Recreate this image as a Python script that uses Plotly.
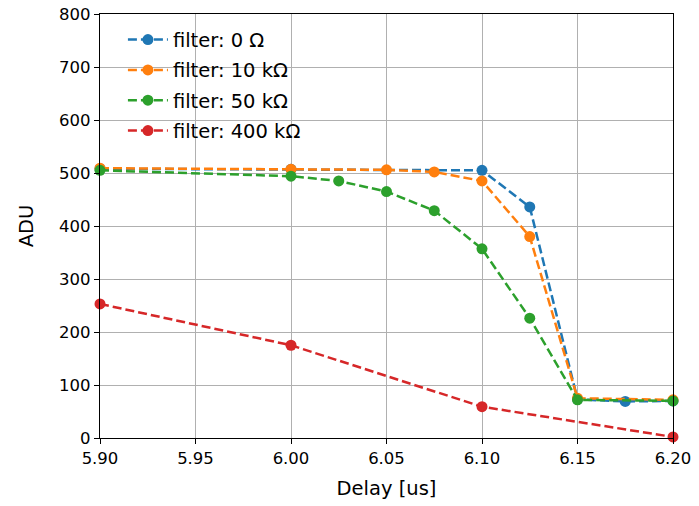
import plotly.graph_objects as go

# Signal amplitude vs. trigger delay for different filter resistors
x_0 = [5.90, 6.00, 6.10, 6.125, 6.15, 6.175, 6.20]
y_0 = [508, 507, 505, 436, 73, 69, 70]

x_10k = [5.90, 6.00, 6.05, 6.075, 6.10, 6.125, 6.15, 6.20]
y_10k = [509, 507, 506, 502, 485, 380, 75, 72]

x_50k = [5.90, 6.00, 6.025, 6.05, 6.075, 6.10, 6.125, 6.15, 6.20]
y_50k = [505, 494, 485, 465, 429, 357, 226, 72, 70]

x_400k = [5.90, 6.00, 6.10, 6.20]
y_400k = [253, 175, 59, 2]

labels = ["filter: 0 Ω", "filter: 10 kΩ", "filter: 50 kΩ", "filter: 400 kΩ"]
colors = ["#1f77b4", "#ff7f0e", "#2ca02c", "#d62728"]

x_ticks = [5.90, 5.95, 6.00, 6.05, 6.10, 6.15, 6.20]
y_ticks = [0, 100, 200, 300, 400, 500, 600, 700, 800]

fig = go.Figure()
for i, (xs, ys, name, c) in enumerate(zip([x_0, x_10k, x_50k, x_400k],
                                          [y_0, y_10k, y_50k, y_400k], labels, colors)):
    fig.add_trace(go.Scatter(
        x=xs, y=ys, name=name, mode="lines+markers", legendgroup=f"g{i}",
        line=dict(color=c, width=2.5, dash="9px,4px"),
        marker=dict(color=c, size=11),
        error_y=dict(type="constant", value=2, color=c, thickness=2, width=0),
        cliponaxis=False,
    ))

axis_common = dict(
    showline=True, linecolor="black", linewidth=1.2, mirror=True,
    ticks="outside", ticklen=5, tickwidth=1.2, tickcolor="black",
    showgrid=True, gridcolor="#b0b0b0", gridwidth=1, zeroline=False,
    automargin=False,
    tickfont=dict(family="DejaVu Sans", size=16.5, color="black"),
)

fig.update_layout(
    width=699, height=506,
    margin=dict(l=100, r=26, t=14, b=68),
    paper_bgcolor="white", plot_bgcolor="white",
    font=dict(family="DejaVu Sans", color="black"),
    xaxis=dict(axis_common, range=[5.90, 6.20], tickvals=x_ticks,
               ticktext=[f"{v:.2f}" for v in x_ticks],
               title=dict(text="Delay [us]", font=dict(size=19.5), standoff=14)),
    yaxis=dict(axis_common, range=[0, 800], tickvals=y_ticks,
               title=dict(text="ADU", font=dict(size=19.5), standoff=20)),
    legend=dict(x=0.04, y=0.985, xanchor="left", yanchor="top",
                bgcolor="rgba(255,255,255,0)", borderwidth=0,
                font=dict(family="DejaVu Sans", size=19.5, color="black"),
                itemwidth=40, tracegroupgap=2),
    showlegend=True,
)

fig.write_html("out.html")
